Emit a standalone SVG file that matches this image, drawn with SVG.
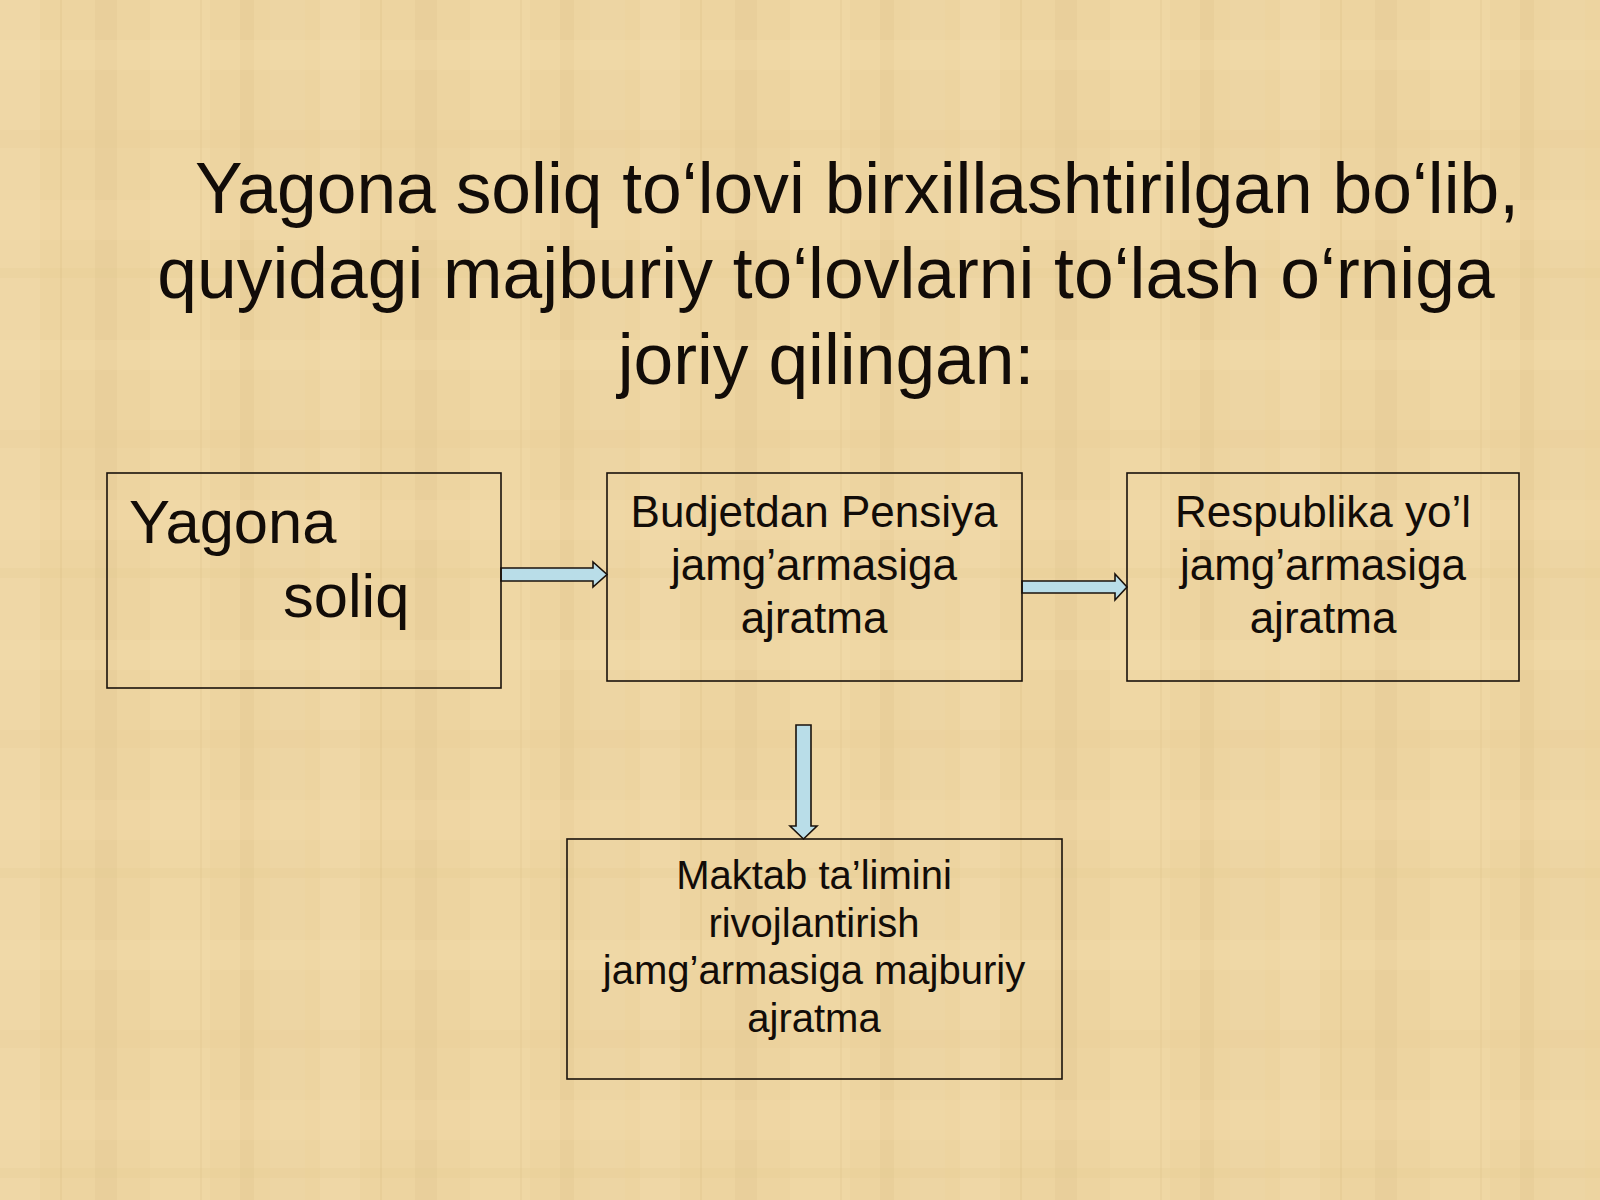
<svg xmlns="http://www.w3.org/2000/svg" width="1600" height="1200" viewBox="0 0 1600 1200">
<defs>
<pattern id="papyrus" x="0" y="0" width="320" height="300" patternUnits="userSpaceOnUse">
<rect width="320" height="300" fill="#EDD4A0"/>
<rect x="0" y="0" width="40" height="300" fill="#F3DDAE" opacity="0.4"/>
<rect x="95" y="0" width="22" height="300" fill="#E3C68E" opacity="0.3"/>
<rect x="150" y="0" width="60" height="300" fill="#F2DCAC" opacity="0.35"/>
<rect x="240" y="0" width="14" height="300" fill="#E2C58B" opacity="0.3"/>
<rect x="270" y="0" width="35" height="300" fill="#F1DAA9" opacity="0.3"/>
<rect x="0" y="40" width="320" height="30" fill="#F3DEB0" opacity="0.25"/>
<rect x="0" y="130" width="320" height="18" fill="#E4C890" opacity="0.2"/>
<rect x="0" y="200" width="320" height="40" fill="#F2DBAA" opacity="0.25"/>
<rect x="0" y="268" width="320" height="10" fill="#E3C68D" opacity="0.2"/>
<rect x="60" y="0" width="2" height="300" fill="#D9BB80" opacity="0.25"/>
<rect x="200" y="0" width="2" height="300" fill="#D9BB80" opacity="0.2"/>
</pattern>
<style>
.box{fill:none;stroke:#1a120c;stroke-width:1.6}
.arrow{fill:#B9DDE8;stroke:#1a120c;stroke-width:1.6;stroke-linejoin:miter}
.title{font-family:"Liberation Sans",Arial,sans-serif;font-size:71.4px;fill:#120c08;text-anchor:middle}
.t44{font-family:"Liberation Sans",Arial,sans-serif;font-size:44px;fill:#120c08;text-anchor:middle}
.t40{font-family:"Liberation Sans",Arial,sans-serif;font-size:40px;fill:#120c08;text-anchor:middle}
.t60{font-family:"Liberation Sans",Arial,sans-serif;font-size:61.5px;fill:#120c08}
</style>
</defs>
<rect x="0" y="0" width="1600" height="1200" fill="url(#papyrus)"/>
<g id="title">
<text class="title" x="857" y="213">Yagona soliq to‘lovi birxillashtirilgan bo‘lib,</text>
<text class="title" x="826" y="298">quyidagi majburiy to‘lovlarni to‘lash o‘rniga</text>
<text class="title" x="826" y="384">joriy qilingan:</text>
</g>
<g id="connectors">
<path class="arrow" d="M501,568 L593,568 L593,562 L607,574.5 L593,587 L593,581 L501,581 Z"/>
<path class="arrow" d="M1022,581 L1115,581 L1115,574 L1127,587 L1115,600 L1115,593 L1022,593 Z"/>
<path class="arrow" d="M796,725 L811,725 L811,826 L817,826 L803.5,839 L790,826 L796,826 Z"/>
</g>
<g id="node-yagona-soliq">
<rect class="box" x="107" y="473" width="394" height="215"/>
<text class="t60" x="129" y="543">Yagona</text>
<text class="t60" x="283" y="617">soliq</text>
</g>
<g id="node-pensiya">
<rect class="box" x="607" y="473" width="415" height="208"/>
<text class="t44" x="814" y="527">Budjetdan Pensiya</text>
<text class="t44" x="814" y="580">jamg’armasiga</text>
<text class="t44" x="814" y="633">ajratma</text>
</g>
<g id="node-yol">
<rect class="box" x="1127" y="473" width="392" height="208"/>
<text class="t44" x="1323" y="527">Respublika yo’l</text>
<text class="t44" x="1323" y="580">jamg’armasiga</text>
<text class="t44" x="1323" y="633">ajratma</text>
</g>
<g id="node-maktab">
<rect class="box" x="567" y="839" width="495" height="240"/>
<text class="t40" x="814" y="889">Maktab ta’limini</text>
<text class="t40" x="814" y="937">rivojlantirish</text>
<text class="t40" x="814" y="984">jamg’armasiga majburiy</text>
<text class="t40" x="814" y="1032">ajratma</text>
</g>
</svg>
